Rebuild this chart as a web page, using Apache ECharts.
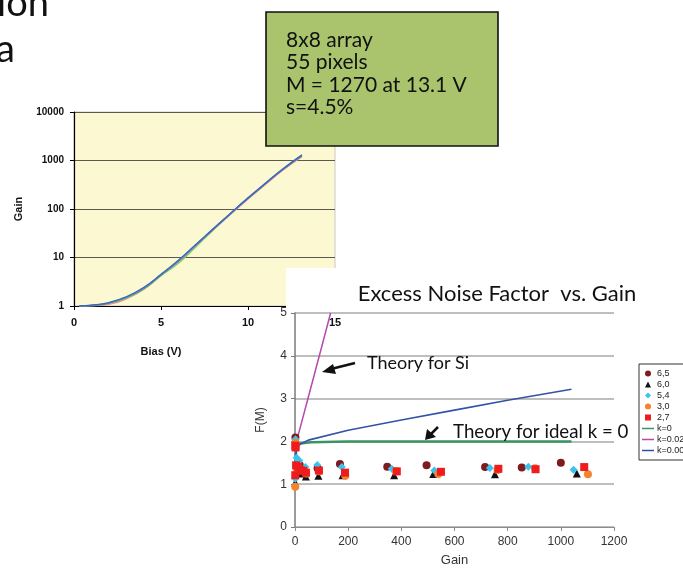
<!DOCTYPE html>
<html><head><meta charset="utf-8">
<script src="https://cdn.jsdelivr.net/npm/echarts@6/dist/echarts.min.js"></script>
<style>html,body{margin:0;padding:0;background:#fff}#c{width:683px;height:568px}</style>
</head><body><div id="c"></div>
<script>
// ---- Left chart: Gain vs Bias (log) ----
const biasV = [0.3, 1, 2, 3, 4, 5, 6, 7, 8, 9, 10, 11, 12, 13.1];
const gainPink   = [1.0, 1.01, 1.08, 1.40, 2.2, 4.2, 8.2, 17.5, 37, 78, 160, 320, 630, 1200];
const gainGreen  = [1.0, 1.02, 1.12, 1.45, 2.2, 4.2, 7.6, 16.5, 37, 80, 165, 330, 650, 1230];
const gainBlue   = [1.0, 1.04, 1.18, 1.55, 2.4, 4.5, 8.8, 18.5, 39, 82, 170, 340, 670, 1290];
const gainTeal   = [1.0, 1.03, 1.16, 1.52, 2.35, 4.4, 8.6, 18.2, 39, 81, 168, 338, 665, 1310];
const gainPurple = [1.0, 1.03, 1.15, 1.50, 2.3, 4.4, 8.5, 18.0, 38, 80, 165, 332, 655, 1270];

// ---- Right chart: Excess noise factor vs gain ----
const s65 = [[1.5,2.09],[18,1.44],[85,1.37],[169,1.47],[347,1.41],[495,1.44],[715,1.40],[853,1.39],[1000,1.50]];
const s60 = [[1,1.04],[5,1.32],[20,1.25],[41,1.18],[88,1.20],[179,1.21],[373,1.21],[520,1.24],[752,1.23],[1060,1.25]];
const s54 = [[1,1.13],[2,2.05],[6,1.62],[10,1.58],[16,1.55],[39,1.40],[84,1.45],[176,1.40],[364,1.36],[524,1.32],[733,1.38],[878,1.41],[1048,1.34]];
const s30 = [[1,0.94],[2,1.97],[8,1.35],[42,1.25],[90,1.30],[189,1.20],[380,1.30],[539,1.24],[762,1.33],[903,1.37],[1102,1.23]];
const s27 = [[1,1.21],[1.5,1.90],[2,1.86],[4,1.44],[12,1.40],[21,1.33],[31,1.31],[41,1.27],[90,1.32],[188,1.27],[383,1.30],[549,1.29],[765,1.36],[905,1.35],[1088,1.40]];
const kZero  = [[1,1.0],[2,1.5],[4,1.75],[8,1.88],[20,1.95],[60,1.98],[200,2.0],[1040,2.0]];
const kSi    = [[1,1.0],[2,1.52],[5,1.93],[10,2.1],[50,3.03],[100,4.2],[134,5.0]];
const kSmall = [[1,1.0],[2,1.5],[5,1.81],[10,1.91],[50,2.03],[200,2.26],[400,2.5],[600,2.73],[800,2.96],[1040,3.22]];
const legendNames = ['6,5','6,0','5,4','3,0','2,7','k=0','k=0.02','k=0.001'];

const SANS = 'Liberation Sans, Arial, sans-serif';
const HUM = 'Lato, Open Sans, sans-serif';
const LINE_ICON = 'path://M0,0 L0.01,0 L0,0.01 Z M0,2.25 L12,2.25 L12,3.75 L0,3.75 Z M11.99,6 L12,6 L12,5.99 Z';
const SQ_ICON = 'path://M0,0 L10,0 L10,10 L0,10 Z';
const DIA_ICON = 'path://M5,0 L10,5 L5,10 L0,5 Z';
const TRI_ICON = 'path://M5,0 L10,10 L0,10 Z';

function zip(xs, ys){ return xs.map((x,i)=>[x, ys[i]]); }
function plain(v){ return String(v); }
function leftLine(ys, color){
  return {type:'line', xAxisIndex:0, yAxisIndex:0, data: zip(biasV, ys), smooth:true,
    symbol:'none', lineStyle:{color, width:1.3}, z:2, silent:true};
}
function pts(name, data, symbol, color, size){
  return {type:'scatter', name, xAxisIndex:2, yAxisIndex:1, data, symbol, symbolSize:size,
    itemStyle:{color, opacity:1}, z:7, silent:true};
}
function theo(name, data, color, w){
  return {type:'line', name, xAxisIndex:2, yAxisIndex:1, data, symbol:'none',
    lineStyle:{color, width:w}, itemStyle:{color}, z:6, silent:true};
}

const chart = echarts.init(document.getElementById('c'), null, {renderer:'canvas'});
chart.setOption({
  animation:false,
  grid:[
    {left:74, right:348, top:112, bottom:262, show:true, backgroundColor:'#fcf8d1', borderColor:'#c8c8c8', borderWidth:1, z:0},
    {left:295, right:69, top:313, bottom:37, show:false, z:5}
  ],
  xAxis:[
    {gridIndex:0, type:'value', min:0, max:15, interval:5, z:1,
     axisLine:{show:true, lineStyle:{color:'#000', width:1.2}},
     axisTick:{show:true, length:4, lineStyle:{color:'#000'}},
     axisLabel:{show:false}, splitLine:{show:false},
     name:'Bias (V)', nameLocation:'middle', nameGap:40,
     nameTextStyle:{fontFamily:SANS, fontWeight:'bold', fontSize:11, color:'#111', padding:[0,87,0,0]}},
    {gridIndex:0, type:'value', min:0, max:15, interval:5, position:'bottom', z:8,
     axisLine:{show:false}, axisTick:{show:false}, splitLine:{show:false},
     axisLabel:{show:true, margin:11, fontFamily:SANS, fontWeight:'bold', fontSize:11, color:'#111', formatter:plain}},
    {gridIndex:1, type:'value', min:0, max:1200, interval:200, z:6,
     axisLine:{show:true, lineStyle:{color:'#8c8c8c', width:1.2}},
     axisTick:{show:true, length:4, lineStyle:{color:'#8c8c8c'}},
     axisLabel:{margin:9, fontFamily:SANS, fontSize:12, color:'#333', formatter:plain},
     splitLine:{show:false},
     name:'Gain', nameLocation:'middle', nameGap:27,
     nameTextStyle:{fontFamily:SANS, fontSize:13, color:'#333'}}
  ],
  yAxis:[
    {gridIndex:0, type:'log', logBase:10, min:1, max:10000, z:1,
     axisLine:{show:true, lineStyle:{color:'#000', width:1.2}},
     axisTick:{show:true, length:4, lineStyle:{color:'#000'}},
     axisLabel:{margin:10, fontFamily:SANS, fontWeight:'bold', fontSize:10, color:'#111', formatter:plain},
     splitLine:{show:true, lineStyle:{color:'#5a5a50', width:1.2}},
     minorTick:{show:false},
     name:'Gain', nameLocation:'middle', nameGap:50,
     nameTextStyle:{fontFamily:SANS, fontWeight:'bold', fontSize:11, color:'#111'}},
    {gridIndex:1, type:'value', min:0, max:5, interval:1, z:6,
     axisLine:{show:true, lineStyle:{color:'#7a7a7a', width:1.5}},
     axisTick:{show:true, length:4, lineStyle:{color:'#7a7a7a'}},
     axisLabel:{margin:8, fontFamily:SANS, fontSize:12, color:'#333', formatter:plain},
     splitLine:{show:true, lineStyle:{color:'#a8a8a8', width:1.5}},
     name:'F(M)', nameLocation:'middle', nameGap:28,
     nameTextStyle:{fontFamily:SANS, fontSize:12, color:'#333'}}
  ],
  legend:{
    orient:'vertical', left:639, top:364, z:12,
    data: [
      {name:legendNames[0], icon:'circle'},
      {name:legendNames[1], icon:TRI_ICON},
      {name:legendNames[2], icon:DIA_ICON},
      {name:legendNames[3], icon:'circle'},
      {name:legendNames[4], icon:SQ_ICON},
      {name:legendNames[5], icon:LINE_ICON},
      {name:legendNames[6], icon:LINE_ICON},
      {name:legendNames[7], icon:LINE_ICON}
    ],
    symbolKeepAspect:true,
    backgroundColor:'#fff', borderColor:'#333', borderWidth:1,
    padding:[4,30,4,3], itemGap:0, itemWidth:12, itemHeight:6,
    textStyle:{fontFamily:SANS, fontSize:9, color:'#222', lineHeight:11, padding:[0,0,0,-2]},
    selectedMode:false
  },
  series:[
    leftLine(gainPink,'#ef8a8a'),
    leftLine(gainGreen,'#7cc96a'),
    leftLine(gainPurple,'#8a5aa8'),
    leftLine(gainTeal,'#3fa7b8'),
    leftLine(gainBlue,'#3f64c0'),
    theo('k=0', kZero, '#3a9462', 2.5),
    theo('k=0.02', kSi, '#b449b0', 1.5),
    theo('k=0.001', kSmall, '#3352a8', 1.6),
    pts('6,5', s65, 'circle', '#7e1b1f', 8),
    pts('6,0', s60, 'triangle', '#111111', 8),
    pts('5,4', s54, 'diamond', '#38c4ee', 8),
    pts('3,0', s30, 'circle', '#f5822e', 8),
    pts('2,7', s27, 'rect', '#ee1c1c', 8)
  ],
  graphic:[
    {type:'rect', z:3, shape:{x:286, y:268, width:400, height:300}, style:{fill:'#ffffff'}, silent:true},
    {type:'text', z:10, style:{text:'tion', x:49, y:23, align:'right', verticalAlign:'bottom', font:'38px '+HUM, fill:'#111'}},
    {type:'text', z:10, style:{text:'a', x:15, y:69, align:'right', verticalAlign:'bottom', font:'38px '+HUM, fill:'#111'}},
    {type:'rect', z:10, shape:{x:266, y:12, width:232, height:134}, style:{fill:'#a9c46c', stroke:'#111', lineWidth:1.6}},
    {type:'text', z:11, style:{text:'8x8 array\n55 pixels\nM = 1270 at 13.1 V\ns=4.5%', x:286, y:28.5, align:'left', verticalAlign:'top', lineHeight:22.5, font:'21px '+HUM, fill:'#111'}},
    {type:'text', z:10, style:{text:'Excess Noise Factor  vs. Gain', x:497, y:294, align:'center', verticalAlign:'middle', font:'22px '+HUM, fill:'#111'}},
    {type:'text', z:10, style:{text:'Theory for Si', x:367, y:363, align:'left', verticalAlign:'middle', font:'18px '+HUM, fill:'#111'}},
    {type:'text', z:10, style:{text:'Theory for ideal k = 0', x:453, y:432, align:'left', verticalAlign:'middle', font:'18.7px '+HUM, fill:'#111'}},
    {type:'line', z:10, shape:{x1:355, y1:363, x2:331, y2:369}, style:{stroke:'#111', lineWidth:2.5}},
    {type:'polygon', z:10, shape:{points:[[322,372],[333,364],[336,374]]}, style:{fill:'#111'}},
    {type:'line', z:10, shape:{x1:438, y1:427, x2:431, y2:434}, style:{stroke:'#111', lineWidth:2.5}},
    {type:'polygon', z:10, shape:{points:[[425,440],[427,429],[436,437]]}, style:{fill:'#111'}}
  ]
});
</script></body></html>
